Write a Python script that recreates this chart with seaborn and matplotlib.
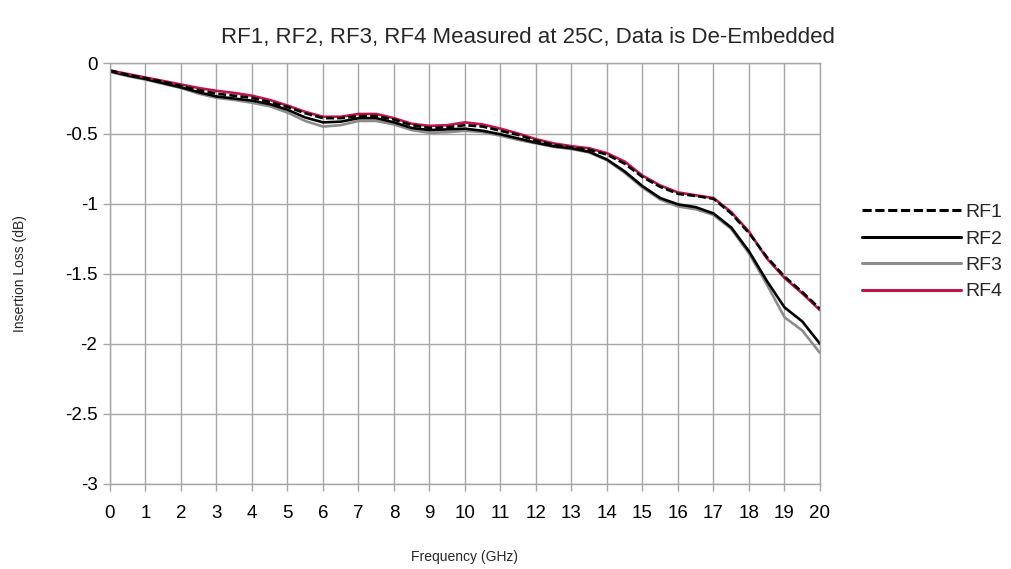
import numpy as np
import pandas as pd
import matplotlib
matplotlib.use("Agg")
import matplotlib.pyplot as plt
from matplotlib.lines import Line2D
import seaborn as sns

freq = [0, 0.5, 1, 1.5, 2, 2.5, 3, 3.5, 4, 4.5, 5, 5.5, 6, 6.5, 7, 7.5, 8, 8.5, 9, 9.5,
        10, 10.5, 11, 11.5, 12, 12.5, 13, 13.5, 14, 14.5, 15, 15.5, 16, 16.5, 17, 17.5,
        18, 18.5, 19, 19.5, 20]

rf1 = [-0.05, -0.08, -0.105, -0.13, -0.16, -0.19, -0.215, -0.23, -0.245, -0.275, -0.31,
       -0.355, -0.39, -0.39, -0.375, -0.375, -0.40, -0.44, -0.46, -0.455, -0.44, -0.45,
       -0.48, -0.51, -0.55, -0.58, -0.60, -0.615, -0.65, -0.715, -0.81, -0.88, -0.93,
       -0.945, -0.965, -1.07, -1.21, -1.38, -1.52, -1.63, -1.75]
rf2 = [-0.055, -0.085, -0.11, -0.14, -0.17, -0.205, -0.235, -0.25, -0.265, -0.29, -0.33,
       -0.385, -0.42, -0.415, -0.39, -0.39, -0.42, -0.46, -0.475, -0.47, -0.465, -0.48,
       -0.505, -0.535, -0.565, -0.59, -0.605, -0.63, -0.685, -0.77, -0.875, -0.96, -1.005,
       -1.025, -1.07, -1.17, -1.34, -1.55, -1.74, -1.84, -2.0]
rf3 = [-0.06, -0.09, -0.115, -0.145, -0.175, -0.215, -0.245, -0.26, -0.28, -0.305, -0.35,
       -0.41, -0.45, -0.44, -0.41, -0.41, -0.435, -0.475, -0.495, -0.49, -0.48, -0.49,
       -0.515, -0.545, -0.57, -0.595, -0.61, -0.635, -0.69, -0.78, -0.885, -0.97, -1.02,
       -1.04, -1.08, -1.18, -1.355, -1.575, -1.81, -1.905, -2.065]
rf4 = [-0.05, -0.075, -0.10, -0.125, -0.15, -0.175, -0.195, -0.21, -0.23, -0.26, -0.30,
       -0.345, -0.38, -0.38, -0.36, -0.36, -0.39, -0.43, -0.445, -0.44, -0.42, -0.435,
       -0.465, -0.50, -0.54, -0.57, -0.59, -0.605, -0.64, -0.70, -0.80, -0.87, -0.92,
       -0.94, -0.96, -1.06, -1.20, -1.39, -1.53, -1.64, -1.76]

series_names = ["RF1", "RF2", "RF3", "RF4"]
x_ticks = list(range(0, 21))
y_ticks = [0, -0.5, -1, -1.5, -2, -2.5, -3]
y_tick_labels = ["0", "-0.5", "-1", "-1.5", "-2", "-2.5", "-3"]

df = pd.concat([
    pd.DataFrame({"Frequency": freq, "Loss": vals, "Port": name})
    for name, vals in zip(series_names, [rf1, rf2, rf3, rf4])
])

sns.set_theme(style="white")
plt.rcParams["font.family"] = ["Liberation Sans", "DejaVu Sans"]

fig = plt.figure(figsize=(10.12, 5.69), dpi=100)
ax = fig.add_axes([110 / 1012, 85 / 569, 710 / 1012, 420.5 / 569])

palette = {"RF1": "#000000", "RF2": "#000000", "RF3": "#8c8c8c", "RF4": "#c0144a"}
dash_pattern = (3, 1.2)

for name in ["RF3", "RF2", "RF4", "RF1"]:
    sub = df[df["Port"] == name]
    sns.lineplot(data=sub, x="Frequency", y="Loss", ax=ax, color=palette[name],
                 linewidth=1.9, linestyle="--" if name == "RF1" else "-",
                 legend=False, sort=False)
    if name == "RF1":
        ax.lines[-1].set_dashes(dash_pattern)

ax.set_xlim(0, 20)
ax.set_ylim(-3, 0)
ax.set_xticks(x_ticks)
ax.set_xticklabels([str(t) for t in x_ticks], fontsize=13.5)
ax.set_yticks(y_ticks)
ax.set_yticklabels(y_tick_labels, fontsize=13.5)
ax.grid(True, color="#a6a6a6", linewidth=1)
for sp in ax.spines.values():
    sp.set_color("#a6a6a6")
    sp.set_linewidth(1)
ax.tick_params(axis="both", direction="out", length=5, width=1, color="#a6a6a6",
               labelcolor="black")
ax.tick_params(axis="x", pad=10)
ax.tick_params(axis="y", pad=4)
ax.xaxis.set_ticks_position("bottom")
ax.yaxis.set_ticks_position("left")

ax.set_xlabel("Frequency (GHz)", fontsize=10)
ax.set_ylabel("Insertion Loss (dB)", fontsize=10)
ax.xaxis.set_label_coords(0.5, -0.158)
ax.yaxis.set_label_coords(-0.117, 0.5)
ax.set_title("RF1, RF2, RF3, RF4 Measured at 25C, Data is De-Embedded", fontsize=16,
             x=(528 - 110) / 710, y=(484 - 38) / 420.5, va="center", ha="center", pad=0)

handles = []
for name in series_names:
    h = Line2D([0], [0], color=palette[name], linewidth=2.2,
               linestyle="--" if name == "RF1" else "-")
    if name == "RF1":
        h.set_dashes(dash_pattern)
    handles.append(h)
fig.legend(handles, series_names, loc="center left", bbox_to_anchor=(845 / 1012, 1 - 252 / 569),
           frameon=False, fontsize=14, handlelength=5.05, handletextpad=0.26,
           labelspacing=0.45)

fig.savefig("out.png", dpi=100)
